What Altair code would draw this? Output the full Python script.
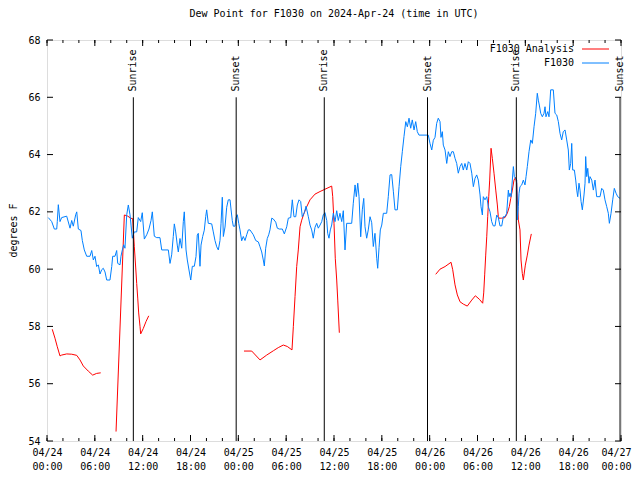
import altair as alt
import pandas as pd

# ---- data (hours since 2024-04-24 00:00 UTC, degrees F) ----
blue_t = [0.16, 0.59, 0.92, 1.22, 1.29, 1.42, 1.63, 1.84, 2.47, 2.89, 3.10, 3.30, 3.60, 3.73, 3.93, 4.26,
          4.43, 4.68, 4.98, 5.39, 5.61, 5.81, 6.02, 6.23, 6.44, 6.65, 6.86, 7.06, 7.28, 7.49, 7.90, 8.12,
          8.24, 8.53, 8.74, 8.87, 9.16, 9.28, 9.45, 9.62, 9.78, 10.00, 10.20, 10.41, 10.54, 10.70, 10.95,
          11.25, 11.45, 11.75, 11.95, 12.21, 12.51, 12.79, 13.05, 13.21, 13.46, 13.76, 14.17, 14.39, 15.22,
          15.43, 15.64, 15.84, 15.97, 16.14, 16.34, 16.47, 16.68, 16.90, 17.10, 17.22, 17.44, 17.60, 17.81,
          18.03, 18.23, 18.48, 18.69, 18.85, 18.98, 19.19, 19.32, 19.53, 19.73, 19.91, 20.03, 20.23, 20.66,
          20.86, 21.07, 21.29, 21.49, 21.70, 21.83, 21.99, 22.12, 22.33, 22.54, 22.74, 22.96, 23.08, 23.24,
          23.37, 23.58, 23.71, 23.87, 24.05, 24.21, 24.42, 24.62, 24.84, 25.05, 25.25, 25.46, 25.88, 26.18,
          26.51, 26.72, 26.93, 27.13, 27.26, 27.43, 27.63, 27.81, 27.97, 28.19, 28.39, 28.69, 28.89, 29.14,
          29.52, 29.77, 30.07, 30.27, 30.57, 30.77, 30.98, 31.20, 31.40, 31.61, 31.82, 32.02, 32.28, 32.49,
          32.78, 32.99, 33.20, 33.40, 33.62, 33.83, 34.03, 34.25, 34.46, 34.66, 34.87, 35.09, 35.21, 35.37,
          35.54, 35.71, 35.91, 36.13, 36.34, 36.54, 36.75, 36.97, 37.17, 37.38, 37.59, 38.22, 38.42, 38.64,
          38.80, 38.98, 39.14, 39.35, 39.55, 39.73, 39.89, 40.10, 40.30, 40.52, 40.73, 40.93, 41.14, 41.36,
          41.48, 41.65, 41.81, 41.99, 42.19, 42.61, 42.81, 43.03, 43.24, 43.45, 43.65, 43.94, 44.16, 44.37,
          44.57, 44.78, 45.00, 45.20, 45.41, 45.62, 45.82, 46.04, 46.25, 46.45, 46.66, 47.83, 48.04, 48.26,
          48.46, 48.67, 48.88, 49.08, 49.30, 49.42, 49.59, 49.71, 49.93, 50.14, 50.34, 50.55, 50.77, 50.97,
          51.18, 51.39, 51.59, 51.81, 52.02, 52.22, 52.43, 52.65, 52.85, 53.06, 53.28, 53.48, 53.69, 53.90,
          54.10, 54.32, 54.44, 54.61, 54.73, 54.94, 55.16, 55.36, 55.57, 55.78, 55.98, 56.20, 56.41, 56.61,
          56.82, 57.04, 57.24, 57.45, 57.66, 57.87, 57.96, 58.08, 58.21, 58.37, 58.50, 58.62, 58.92, 59.00,
          59.12, 59.21, 59.33, 59.55, 59.75, 59.96, 60.09, 60.25, 60.46, 60.68, 60.88, 61.09, 61.30, 61.50,
          61.63, 61.75, 61.93, 62.13, 62.34, 62.47, 62.59, 62.81, 62.97, 63.18, 63.51, 63.72, 63.94, 64.14,
          64.35, 64.56, 64.76, 64.98, 65.19, 65.39, 65.52, 65.69, 65.82, 65.94, 66.15, 66.32, 66.45, 66.57,
          66.73, 66.86, 66.99, 67.15, 67.36, 67.49, 67.57, 67.70, 67.83, 67.99, 68.11, 68.33, 68.53, 68.74,
          68.95, 69.37, 69.58, 69.78, 69.99, 70.21, 70.41, 70.54, 70.75, 70.96, 71.16, 71.38, 71.59, 71.88]
blue_v = [61.8, 61.66, 61.4, 61.4, 61.66, 62.25, 61.66, 61.8, 61.85, 61.43, 61.7, 61.5, 61.9, 62.0, 61.4, 61.35,
          61.0, 60.67, 60.45, 60.45, 60.65, 60.32, 60.45, 60.09, 60.15, 59.83, 59.98, 60.03, 59.9, 59.62, 59.62, 60.09,
          60.45, 60.45, 60.65, 60.2, 60.15, 60.45, 60.67, 60.85, 60.73, 61.9, 62.24, 61.9, 61.54, 61.08, 61.3,
          61.3, 61.8, 61.66, 61.97, 61.05, 61.2, 61.4, 61.7, 62.0, 61.15, 61.1, 61.1, 60.67, 60.67,
          60.2, 60.5, 61.14, 61.58, 61.3, 60.84, 60.6, 61.07, 60.73, 61.66, 62.0, 60.67, 60.32, 59.97,
          59.62, 60.1, 60.1, 60.44, 61.19, 61.25, 60.1, 60.84, 61.14, 61.36, 61.84, 62.07, 61.6, 61.58,
          61.3, 61.0, 60.78, 60.67, 61.0, 61.6, 62.51, 61.14, 61.47, 62.16, 62.42, 62.42, 62.1, 61.7,
          61.5, 61.5, 61.79, 61.9, 61.6, 61.37, 60.99, 61.14, 61.0, 61.2, 61.37, 61.37, 61.2, 61.0,
          60.95, 60.78, 60.6, 60.32, 60.11, 60.73, 61.07, 61.2, 61.37, 61.78, 61.75, 61.64, 61.43, 61.4,
          61.4, 61.23, 61.48, 61.78, 61.8, 62.42, 61.83, 61.83, 62.24, 62.42, 62.36, 61.83, 61.97, 62.2,
          61.83, 61.54, 61.37, 61.08, 61.46, 61.6, 61.43, 61.54, 61.66, 61.9, 61.97, 61.7, 61.25, 61.08,
          61.37, 61.54, 61.95, 61.66, 62.04, 61.7, 61.95, 61.66, 62.04, 60.67, 61.6, 61.6, 62.3, 62.94,
          62.53, 63.0, 62.53, 61.13, 62.07, 62.47, 61.48, 61.08, 61.37, 61.83, 61.62, 60.79, 61.25, 60.38,
          60.03, 60.75, 61.37, 61.54, 61.95, 61.95, 62.53, 63.29, 63.3, 62.7, 62.07, 62.07, 62.88, 63.58,
          64.1, 64.63, 65.15, 64.97, 65.27, 64.92, 65.21, 64.86, 65.15, 64.8, 64.68, 64.68, 64.39, 64.16,
          64.5, 64.6, 65.09, 65.27, 65.15, 64.6, 64.8, 64.33, 64.16, 63.69, 64.1, 63.93, 64.1, 64.1,
          63.87, 63.69, 63.35, 63.58, 63.69, 63.46, 63.69, 63.46, 63.75, 63.69, 63.35, 62.88, 63.17, 63.29,
          63.11, 62.59, 62.18, 61.89, 62.53, 62.42, 62.53, 62.18, 62.0, 61.66, 61.51, 61.51, 61.89, 61.8,
          61.51, 61.51, 61.83, 61.83, 61.95, 62.76, 62.53, 62.65, 62.53, 63.11, 63.58, 63.23, 63.11, 61.72,
          62.18, 62.65, 62.88, 62.94, 63.11, 62.94, 63.23, 63.58, 64.1, 64.51, 64.39, 64.97, 65.44, 66.14,
          65.9, 65.73, 65.44, 65.32, 65.44, 65.67, 65.32, 65.5, 65.32, 66.26, 66.26, 65.44, 65.38, 65.15,
          64.74, 64.51, 64.8, 64.86, 64.51, 64.16, 63.46, 63.69, 64.39, 63.46, 63.46, 63.11, 62.76, 62.53,
          63.0, 62.76, 62.36, 62.07, 62.59, 63.0, 63.93, 63.23, 63.52, 63.0, 63.23, 63.11, 62.76, 63.11,
          62.53, 62.53, 62.82, 62.76, 62.42, 62.18, 61.95, 61.6, 61.95, 62.42, 62.82, 62.65, 62.53, 62.47]

# analysis series; None marks a gap in the record
red_t = [0.66, 1.00, 1.29, 1.63, 1.84, 2.47, 3.10, 3.73, 4.14, 4.55, 5.18, 5.73, 6.23, 6.74, None,
         8.66, 9.70, 10.07, 10.50, 10.75, 10.83, 10.95, 11.13, 11.25, 11.38, 11.50, 11.67, 11.75, 12.08, 12.42, 12.76, None,
         24.71, 25.68, 26.72, 27.56, 28.39, 29.01, 29.64, 30.14, 30.73, 30.90, 31.11, 31.32, 31.52, 31.74, 31.95,
         32.24, 32.58, 32.99, 33.62, 34.25, 34.87, 35.71, 35.84, 36.00, 36.16, 36.34, 36.47, 36.67, None,
         48.76, 49.30, 49.93, 50.68, 50.89, 51.18, 51.47, 51.81, 52.22, 52.72, 53.28, 53.73, 54.23, 54.65, 54.78,
         54.90, 55.03, 55.16, 55.28, 55.41, 55.53, 55.70, 55.86, 56.07, 56.29, 56.49, 56.61, 56.70, 57.04, 57.45,
         57.74, 57.99, 58.17, 58.37, 58.58, 58.77, 58.92, 59.12, 59.33, 59.46, 59.62, 59.75, 60.00, 60.25, 60.46, 60.75]
red_v = [57.9, 57.59, 57.29, 56.97, 57.0, 57.04, 57.03, 56.99, 56.83, 56.62, 56.44, 56.3, 56.36, 56.38, None,
         54.33, 61.89, 61.86, 61.78, 61.76, 61.37, 60.8, 60.04, 59.5, 58.99, 58.47, 57.99, 57.74, 57.93, 58.17, 58.37, None,
         57.14, 57.14, 56.83, 57.0, 57.15, 57.26, 57.35, 57.3, 57.18, 57.99, 59.04, 60.09, 60.67, 61.48, 61.71,
         61.95, 62.18, 62.42, 62.62, 62.71, 62.79, 62.9, 62.53, 61.6, 60.38, 59.62, 58.92, 57.78, None,
         59.82, 60.0, 60.09, 60.24, 59.98, 59.45, 59.1, 58.86, 58.78, 58.71, 58.92, 59.07, 58.95, 58.81, 59.17,
         59.8, 60.49, 61.13, 61.83, 62.53, 63.11, 64.22, 63.87, 63.35, 62.76, 62.24, 61.83, 61.78, 61.78, 61.8,
         61.95, 62.18, 62.47, 62.76, 63.11, 63.2, 63.0, 61.72, 61.37, 60.32, 59.85, 59.62, 60.14, 60.49, 60.84, 61.23]

sun_t = [10.83, 23.73, 34.78, 47.73, 58.87, 71.88]
sun_lbl = ["Sunrise", "Sunset", "Sunrise", "Sunset", "Sunrise", "Sunset"]

y_ticks = [54, 56, 58, 60, 62, 64, 66, 68]
x_major = list(range(0, 73, 6))
x_minor = list(range(0, 73, 2))

series_names = ["F1030 Analysis", "F1030"]
series_colors = ["#ff0000", "#0080ff"]

# ---- build tables ----
rows = []
seg = 0
for t, v in zip(red_t, red_v):
    if t is None:
        seg += 1
        continue
    rows.append({"t": t, "v": v, "series": "F1030 Analysis", "seg": f"a{seg}"})
for t, v in zip(blue_t, blue_v):
    rows.append({"t": t, "v": v, "series": "F1030", "seg": "b"})
lines_df = pd.DataFrame(rows)
sun_df = pd.DataFrame({"t": sun_t, "label": sun_lbl})
ymaj_df = pd.DataFrame({"v": y_ticks})
xmaj_df = pd.DataFrame({"t": x_major})
xmin_df = pd.DataFrame({"t": x_minor})

FONT = "DejaVu Sans Mono"
W, H = 574, 401

xscale = alt.Scale(domain=[0, 72], nice=False, zero=False)
yscale = alt.Scale(domain=[54, 68], nice=False, zero=False)

label_expr = ("['04/' + (24 + floor(datum.value / 24)), "
              "(datum.value % 24 < 10 ? '0' : '') + (datum.value % 24) + ':00']")

x_enc = alt.X("t:Q", scale=xscale,
              axis=alt.Axis(values=x_major, labelExpr=label_expr, ticks=False, domain=False, grid=False,
                            title=None, labelFont=FONT, labelFontSize=10, labelColor="black",
                            labelPadding=6, labelLineHeight=14, labelFlush=False, labelOverlap=False,
                            labelOffset={"condition": {"test": "datum.value >= 72", "value": -5},
                                         "value": 0}))
y_enc = alt.Y("v:Q", scale=yscale,
              axis=alt.Axis(values=y_ticks, ticks=False, domain=False, grid=False, title="degrees F",
                            labelFont=FONT, labelFontSize=10, labelColor="black", labelPadding=7,
                            titleFont=FONT, titleFontSize=10, titleFontWeight="normal", titleColor="black",
                            titleX=-34, titleY=190, titleAngle=270, titleAlign="center",
                            titleBaseline="middle"))

lines = alt.Chart(lines_df).mark_line(strokeWidth=1, interpolate="linear").encode(
    x=x_enc, y=y_enc,
    color=alt.Color("series:N", scale=alt.Scale(domain=series_names, range=series_colors), legend=None),
    detail="seg:N",
    order=alt.Order("t:Q"),
)

sun_rules = alt.Chart(sun_df).mark_rule(color="black", strokeWidth=1).encode(
    x=alt.X("t:Q", scale=xscale), y=alt.datum(66), y2=alt.datum(54))

sun_text = alt.Chart(sun_df).mark_text(angle=270, align="left", baseline="middle", font=FONT,
                                       fontSize=10, color="black").encode(
    x=alt.X("t:Q", scale=xscale), y=alt.datum(66.2), text="label:N")

# inward ticks (gnuplot style) on all four sides
tick_layers = []
for df, ln in ((xmaj_df, 6), (xmin_df, 3)):
    tick_layers.append(alt.Chart(df).mark_rule(color="black").encode(
        x=alt.X("t:Q", scale=xscale), y=alt.value(H), y2=alt.value(H - ln)))
    tick_layers.append(alt.Chart(df).mark_rule(color="black").encode(
        x=alt.X("t:Q", scale=xscale), y=alt.value(0), y2=alt.value(ln)))
tick_layers.append(alt.Chart(ymaj_df).mark_rule(color="black").encode(
    y=alt.Y("v:Q", scale=yscale), x=alt.value(0), x2=alt.value(6)))
tick_layers.append(alt.Chart(ymaj_df).mark_rule(color="black").encode(
    y=alt.Y("v:Q", scale=yscale), x=alt.value(W), x2=alt.value(W - 6)))

# key (top right, gnuplot style: text then line sample)
one = pd.DataFrame({"k": [0]})
key = []
for i, (name, col) in enumerate(zip(series_names, series_colors)):
    yy = 9 + 14 * i
    key.append(alt.Chart(one).mark_text(text=name, align="right", baseline="middle", font=FONT,
                                        fontSize=10, color="black").encode(
        x=alt.value(527), y=alt.value(yy)))
    key.append(alt.Chart(one).mark_rule(color=col, strokeWidth=1).encode(
        x=alt.value(535), x2=alt.value(562), y=alt.value(yy)))

chart = alt.layer(lines, *tick_layers, sun_rules, sun_text, *key).properties(
    width=W, height=H,
    title=alt.Title("Dew Point for F1030 on 2024-Apr-24 (time in UTC)", font=FONT, fontSize=10,
                    fontWeight="normal", color="black", anchor="middle", offset=16),
    autosize=alt.AutoSizeParams(type="none"),
    padding={"left": 39, "top": 32, "right": 11, "bottom": 31},
).configure_view(stroke="black", strokeWidth=1).configure(background="white")

chart.save("out.html", embed_options={"renderer": "svg", "actions": False})
